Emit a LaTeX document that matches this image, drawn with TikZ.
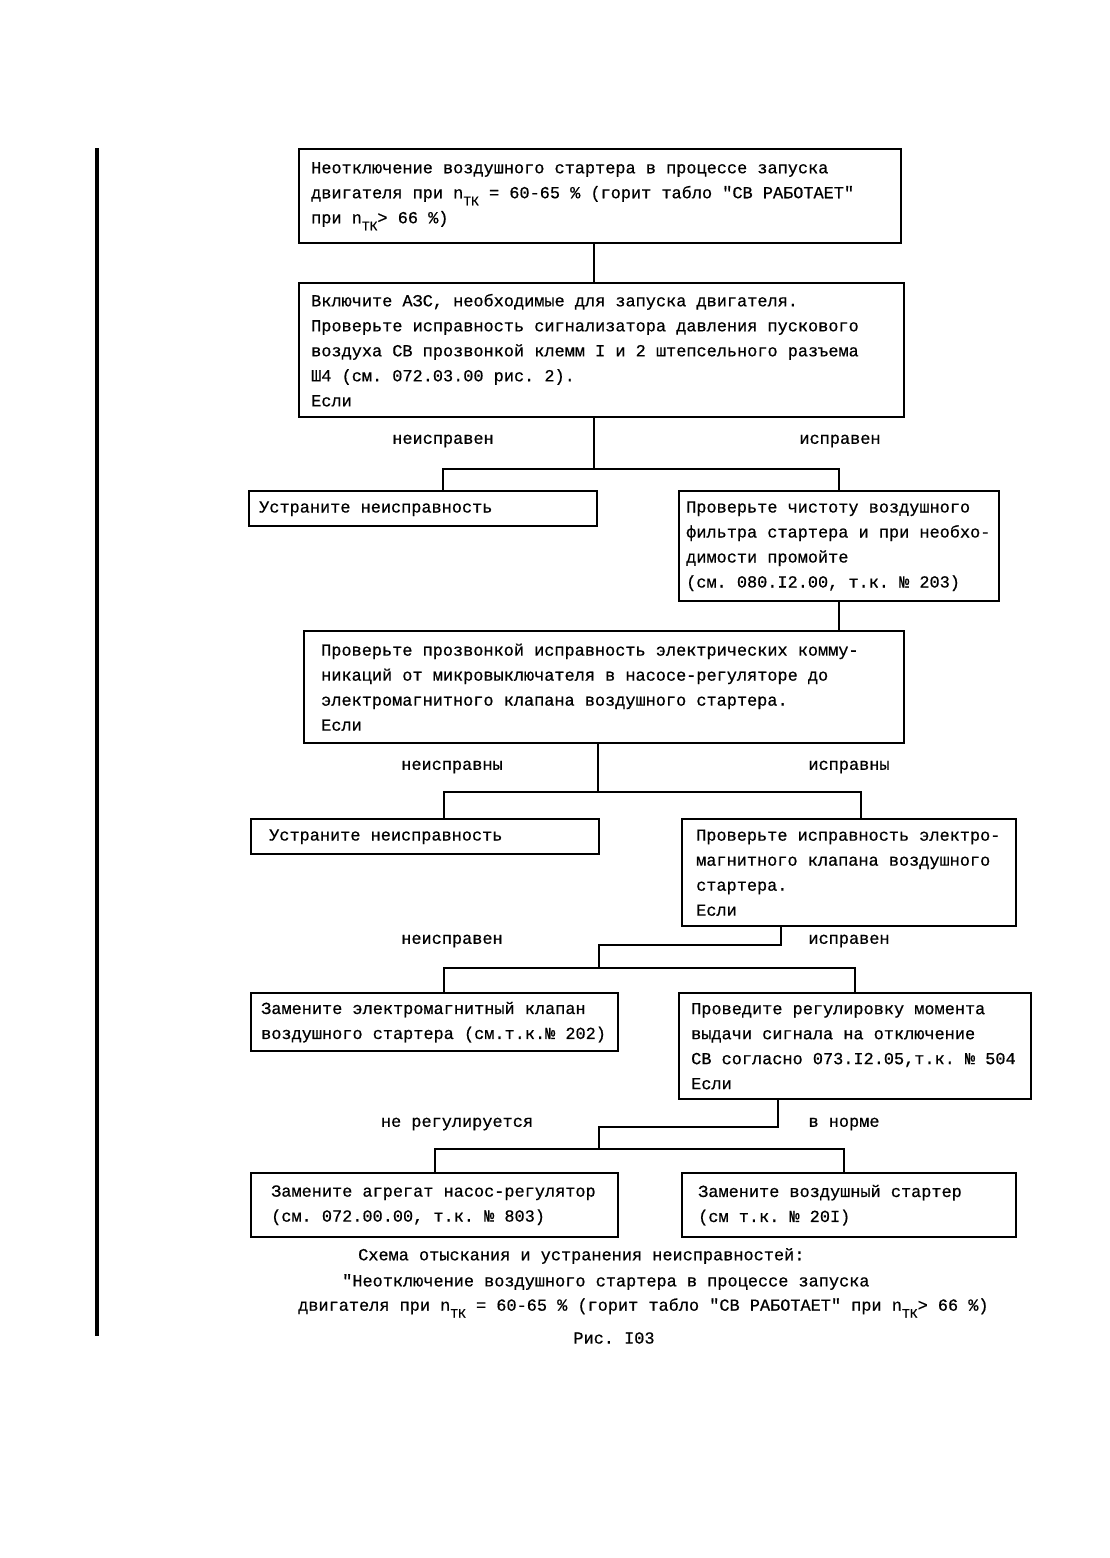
\documentclass[tikz,border=0pt]{standalone}
\usepackage{fontspec}
\setmonofont{Liberation Mono}[FakeBold=0.6]
\usepackage{tikz}
\usepackage{xcolor}

\newcommand{\ntk}{n\raisebox{-7pt}{\fontsize{13}{13}\selectfont ТК}}

\begin{document}
\begin{tikzpicture}[x=1pt, y=-1pt,
    box/.style={draw, line width=2.4pt, anchor=north west, align=left,
      inner ysep=0pt},
    wire/.style={line width=2pt},
    lbl/.style={inner sep=0pt},
    every node/.style={font=\ttfamily\fontsize{16.9}{25}\selectfont,
      execute at begin node={\spaceskip=10.14pt\xspaceskip=10.14pt}}]
  \useasboundingbox (0,0) rectangle (1110,1558);
  \draw[line width=4.5pt] (97,148) -- (97,1336);

  % top of the scheme
  \node[box, inner xsep=12pt, text width=578pt, minimum height=94pt] (b1) at (298,148)
    {Неотключение воздушного стартера в процессе запуска\\
     двигателя при \ntk{} = 60-65 \% (горит табло "СВ РАБОТАЕТ"\\
     при \ntk> 66 \%)};
  \node[box, inner xsep=12pt, text width=581pt, minimum height=134pt] (b2) at (298,282)
    {Включите АЗС, необходимые для запуска двигателя.\\
     Проверьте исправность сигнализатора давления пускового\\
     воздуха СВ прозвонкой клемм I и 2 штепсельного разъема\\
     Ш4 (см. 072.03.00 рис. 2).\\
     Если};
  \draw[wire] ([xshift=-6pt]b1.south) -- ++(0,40);

  % first split
  \node[lbl] (l1a) at (443,441) {неисправен};
  \node[lbl] (l1b) at (840,441) {исправен};
  \node[box, inner xsep=10pt, text width=328pt, minimum height=35pt] (b3l) at (248,490)
    {Устраните неисправность};
  \node[box, inner xsep=7pt, text width=306pt, minimum height=110pt] (b3r) at (678,490)
    {Проверьте чистоту воздушного\\
     фильтра стартера и при необхо-\\
     димости промойте\\
     (см. 080.I2.00, т.к. № 203)};
  \draw[wire] ([xshift=-7.5pt]b2.south) -- ++(0,51) coordinate (j1);
  \draw[wire] ([xshift=20pt]b3l.north) |- (j1) -| (b3r.north);

  \node[box, inner xsep=17pt, text width=566pt, minimum height=112pt] (b4) at (303,630)
    {Проверьте прозвонкой исправность электрических комму-\\
     никаций от микровыключателя в насосе-регуляторе до\\
     электромагнитного клапана воздушного стартера.\\
     Если};
  \draw[wire] (b3r.south) -- (b3r.south |- b4.north);

  % second split
  \node[lbl] (l2a) at (452,767) {неисправны};
  \node[lbl] (l2b) at (849,767) {исправны};
  \node[box, inner xsep=18pt, text width=312pt, minimum height=35pt] (b5l) at (250,818)
    {Устраните неисправность};
  \node[box, inner xsep=14pt, text width=306pt, minimum height=107pt] (b5r) at (681,818)
    {Проверьте исправность электро-\\
     магнитного клапана воздушного\\
     стартера.\\
     Если};
  \draw[wire] ([xshift=-6pt]b4.south) -- ++(0,48) coordinate (j2);
  \draw[wire] ([xshift=19pt]b5l.north) |- (j2) -| ([xshift=12pt]b5r.north);

  % third split
  \node[lbl] (l3a) at (452,941) {неисправен};
  \node[lbl] (l3b) at (849,941) {исправен};
  \node[box, inner xsep=10pt, text width=347pt, minimum height=58pt] (b6l) at (250,992)
    {Замените электромагнитный клапан\\
     воздушного стартера (см.т.к.№ 202)};
  \node[box, inner xsep=12pt, text width=328pt, minimum height=106pt] (b6r) at (678,992)
    {Проведите регулировку момента\\
     выдачи сигнала на отключение\\
     СВ согласно 073.I2.05,т.к. № 504\\
     Если};
  \draw[wire] ([xshift=-68pt]b5r.south) -- ++(0,18) -- ++(-182,0) -- ++(0,23) coordinate (j3);
  \draw[wire] ([xshift=9.5pt]b6l.north) |- (j3) -| (b6r.north);

  % last split
  \node[lbl] (l4a) at (457,1124) {не регулируется};
  \node[lbl] (l4b) at (844,1124) {в норме};
  \node[box, inner xsep=20pt, text width=327pt, minimum height=64pt] (b7l) at (250,1172)
    {Замените агрегат насос-регулятор\\
     (см. 072.00.00, т.к. № 803)};
  \node[box, inner xsep=16pt, text width=302pt, minimum height=64pt] (b7r) at (681,1172)
    {Замените воздушный стартер\\
     (см т.к. № 20I)};
  \draw[wire] ([xshift=-77pt]b6r.south) -- ++(0,27) -- ++(-179,0) -- ++(0,22) coordinate (j4);
  \draw[wire] (b7l.north) |- (j4) -| ([xshift=-5pt]b7r.north);

  % caption
  \node[lbl, anchor=west] (c1) at (358,1256) {Схема отыскания и устранения неисправностей:};
  \node[lbl, anchor=west] (c2) at (342,1282) {"Неотключение воздушного стартера в процессе запуска};
  \node[lbl, anchor=west] (c3) at (298,1308)
    {двигателя при \ntk{} = 60-65 \% (горит табло "СВ РАБОТАЕТ" при \ntk> 66 \%)};
  \node[lbl] (c4) at (614,1338) {Рис. I03};
\end{tikzpicture}
\end{document}
